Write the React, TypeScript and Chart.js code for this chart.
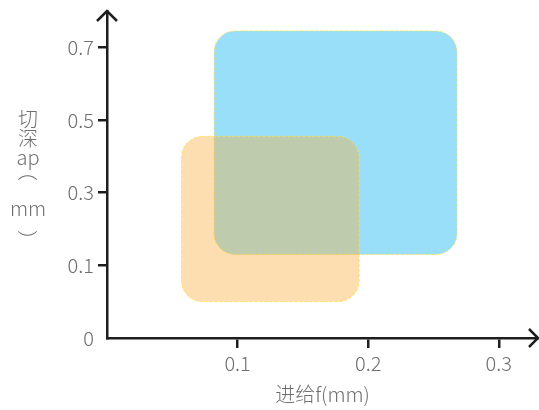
import React, { useEffect, useRef } from 'react';
import { Chart, registerables } from 'chart.js';

Chart.register(...registerables);

// ---- data ----
const xTickValues = [0.1, 0.2, 0.3];
const yTickLabels = ['0', '0.1', '0.3', '0.5', '0.7'];
const yTickValues = [0, 0.1, 0.3, 0.5, 0.7];
const seriesNames = ['区域A', '区域B'];
const feedMin = [0.082, 0.057]; // f (mm)
const feedMax = [0.268, 0.193];
const depthMin = [0.13, 0.05]; // ap (mm)
const depthMax = [0.745, 0.455];
const xTitle = '进给f(mm)';
const yTitleParts = ['切', '深', 'ap', '（', 'mm', '）'];

// ---- styles ----
const fillColors = ['rgba(0,176,240,0.4)', 'rgba(247,172,60,0.4)'];
const borderColor = 'rgba(255,225,60,0.75)';
const axisColor = '#1e1e1e';
const textColor = '#6e6e6e';
const fontFamily = "'Noto Sans CJK SC', 'Noto Sans', sans-serif";
const fontSize = 20;
const yTitleOffsets = [-55, -36, -17, -3.5, 33.5, 65.5];

// ap value -> position on the (evenly spaced) tick index axis
function depthToPos(v: number): number {
  for (let i = 1; i < yTickValues.length; i++) {
    if (v <= yTickValues[i] || i === yTickValues.length - 1) {
      const a = yTickValues[i - 1];
      const b = yTickValues[i];
      return i - 1 + (v - a) / (b - a);
    }
  }
  return 0;
}

const rectPlugin = {
  id: 'roundRects',
  beforeDatasetsDraw(chart: any) {
    const { ctx } = chart;
    const xs = chart.scales.x;
    const ys = chart.scales.y;
    chart.data.datasets.forEach((ds: any) => {
      const [p0, p1] = ds.data;
      const x0 = xs.getPixelForValue(p0.x);
      const x1 = xs.getPixelForValue(p1.x);
      const y0 = ys.getPixelForValue(p1.y);
      const y1 = ys.getPixelForValue(p0.y);
      ctx.save();
      ctx.beginPath();
      (ctx as any).roundRect(x0, y0, x1 - x0, y1 - y0, 21);
      ctx.fillStyle = ds.backgroundColor;
      ctx.fill();
      ctx.setLineDash([3, 2]);
      ctx.lineWidth = 1;
      ctx.strokeStyle = borderColor;
      ctx.stroke();
      ctx.restore();
    });
  },
  afterDraw(chart: any) {
    const { ctx, chartArea } = chart;
    const { left, top, right, bottom } = chartArea;
    ctx.save();
    ctx.strokeStyle = axisColor;
    ctx.lineWidth = 2.5;
    ctx.lineCap = 'butt';
    ctx.lineJoin = 'miter';
    // y arrow
    ctx.beginPath();
    ctx.moveTo(left - 10, top + 10);
    ctx.lineTo(left, top);
    ctx.lineTo(left + 10, top + 10);
    ctx.stroke();
    // x arrow
    ctx.beginPath();
    ctx.moveTo(right - 9, bottom - 9);
    ctx.lineTo(right, bottom);
    ctx.lineTo(right - 9, bottom + 9);
    ctx.stroke();

    // vertical y title
    const cx = 28;
    const cy = (top + bottom) / 2;
    ctx.fillStyle = textColor;
    ctx.font = `300 ${fontSize}px ${fontFamily}`;
    ctx.textAlign = 'center';
    ctx.textBaseline = 'middle';
    yTitleParts.forEach((t, i) => {
      const y = cy + yTitleOffsets[i];
      if (t === '（' || t === '）') {
        ctx.save();
        ctx.translate(cx, y);
        ctx.rotate(Math.PI / 2);
        ctx.fillText(t, 0, 0);
        ctx.restore();
      } else {
        ctx.fillText(t, cx, y);
      }
    });
    ctx.restore();
  },
};

export default function App() {
  const ref = useRef<HTMLCanvasElement>(null);

  useEffect(() => {
    if (!ref.current) return;
    const datasets = seriesNames.map((name, i) => ({
      label: name,
      data: [
        { x: feedMin[i], y: depthToPos(depthMin[i]) },
        { x: feedMax[i], y: depthToPos(depthMax[i]) },
      ],
      backgroundColor: fillColors[i],
      pointRadius: 0,
      showLine: false,
    }));

    const tickFont = { family: fontFamily, size: fontSize, weight: 300 } as any;

    const chart = new Chart(ref.current, {
      type: 'scatter',
      data: { datasets },
      options: {
        animation: false,
        responsive: false,
        events: [],
        layout: { padding: { left: 0, right: 1, top: 11, bottom: 4 } },
        plugins: {
          legend: { display: false },
          tooltip: { enabled: false },
        },
        scales: {
          x: {
            type: 'linear',
            min: 0,
            max: 0.33,
            afterFit: (s: any) => {
              s.height = 68;
              s.paddingLeft = 0;
              s.paddingRight = 0;
            },
            afterBuildTicks: (s: any) => {
              s.ticks = xTickValues.map((v) => ({ value: v }));
            },
            border: { display: true, color: axisColor, width: 2.5 },
            grid: {
              display: true,
              drawOnChartArea: false,
              drawTicks: true,
              tickLength: 10,
              color: axisColor,
              lineWidth: 2.5,
            },
            ticks: {
              color: textColor,
              padding: 3,
              font: tickFont,
              callback: (v: any) => String(v),
              maxRotation: 0,
            },
            title: {
              display: true,
              text: xTitle,
              color: textColor,
              font: tickFont,
              padding: 0,
            },
          },
          y: {
            type: 'linear',
            min: 0,
            max: 4.5,
            afterFit: (s: any) => {
              s.width = 107;
              s.paddingTop = 0;
              s.paddingBottom = 0;
            },
            afterBuildTicks: (s: any) => {
              s.ticks = yTickLabels.map((_, i) => ({ value: i }));
            },
            border: { display: true, color: axisColor, width: 2.5 },
            grid: {
              display: true,
              drawOnChartArea: false,
              drawTicks: true,
              tickLength: 9,
              color: (c: any) => (c.tick && c.tick.value === 0 ? 'rgba(0,0,0,0)' : axisColor),
              lineWidth: 2.5,
            },
            ticks: {
              color: textColor,
              padding: 4,
              font: tickFont,
              callback: (_v: any, i: number) => yTickLabels[i],
            },
          },
        },
      },
      plugins: [rectPlugin],
    });
    return () => chart.destroy();
  }, []);

  return (
    <div style={{ position: 'fixed', left: 0, top: 0, width: 539, height: 410, background: '#fff' }}>
      <canvas ref={ref} width={539} height={410} />
    </div>
  );
}
